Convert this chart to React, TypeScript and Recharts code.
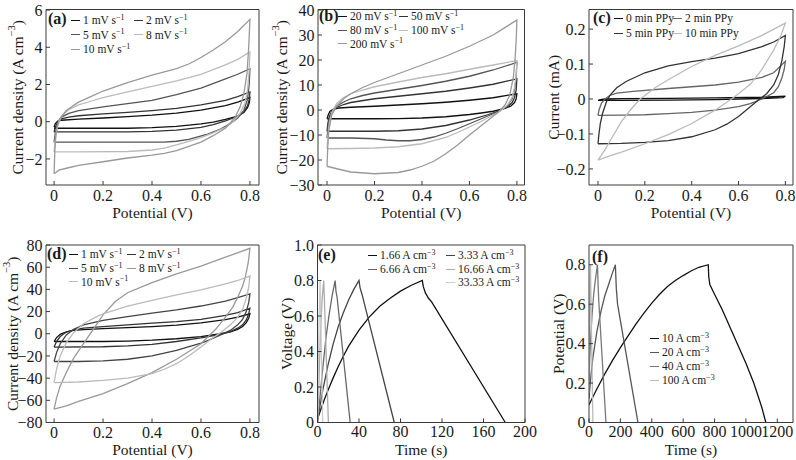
import React from "react";
import { LineChart, Line, XAxis, YAxis } from "recharts";

type Pt = [number, number];

// (a) CV curves, 1-10 mV/s (upper branch then lower branch)
const cvA1: Pt[] = [[0,-0.3],[0.005,-0.1],[0.015,0.03],[0.03,0.08],[0.1,0.14],[0.2,0.2],[0.3,0.27],[0.4,0.35],[0.5,0.46],[0.6,0.62],[0.7,0.87],[0.75,1.05],[0.8,1.3],[0.797,1.0],[0.79,0.75],[0.775,0.5],[0.75,0.3],[0.7,0.12],[0.65,-0.02],[0.6,-0.12],[0.5,-0.25],[0.4,-0.32],[0.3,-0.35],[0,-0.35]];
const cvA2: Pt[] = [[0,-0.55],[0.005,-0.3],[0.015,0.0],[0.03,0.15],[0.06,0.25],[0.1,0.32],[0.2,0.42],[0.3,0.5],[0.4,0.6],[0.5,0.72],[0.6,0.9],[0.7,1.15],[0.75,1.35],[0.8,1.6],[0.797,1.2],[0.79,0.85],[0.775,0.55],[0.75,0.3],[0.7,0.05],[0.65,-0.15],[0.6,-0.3],[0.5,-0.45],[0.4,-0.52],[0.3,-0.55],[0,-0.55]];
const cvA5: Pt[] = [[0,-1.1],[0.005,-0.6],[0.015,-0.1],[0.03,0.25],[0.06,0.45],[0.1,0.6],[0.2,0.8],[0.3,0.97],[0.4,1.15],[0.5,1.45],[0.6,1.8],[0.7,2.3],[0.75,2.55],[0.8,2.85],[0.797,2.0],[0.79,1.2],[0.775,0.6],[0.75,0.2],[0.72,-0.1],[0.68,-0.4],[0.62,-0.7],[0.55,-0.95],[0.5,-1.05],[0.45,-1.1],[0.3,-1.1],[0,-1.1]];
const cvA8: Pt[] = [[0,-1.62],[0.005,-0.9],[0.015,-0.2],[0.03,0.3],[0.06,0.65],[0.1,0.9],[0.15,1.1],[0.2,1.3],[0.3,1.6],[0.4,1.9],[0.5,2.2],[0.6,2.55],[0.7,3.05],[0.75,3.35],[0.8,3.75],[0.796,2.6],[0.79,1.7],[0.78,1.0],[0.76,0.45],[0.73,0.0],[0.7,-0.3],[0.65,-0.6],[0.6,-0.85],[0.55,-1.05],[0.5,-1.25],[0.45,-1.42],[0.4,-1.52],[0.3,-1.6],[0.1,-1.62],[0,-1.62]];
const cvA10: Pt[] = [[0,-2.8],[0.003,-1.6],[0.008,-0.6],[0.02,0.1],[0.05,0.6],[0.1,1.05],[0.15,1.35],[0.2,1.65],[0.3,2.1],[0.4,2.5],[0.5,2.85],[0.55,3.1],[0.6,3.45],[0.65,3.85],[0.7,4.3],[0.75,4.85],[0.8,5.5],[0.795,4.0],[0.788,2.6],[0.775,1.5],[0.76,0.8],[0.74,0.25],[0.7,-0.35],[0.65,-0.75],[0.6,-1.1],[0.5,-1.55],[0.45,-1.7],[0.4,-1.8],[0.3,-1.95],[0.2,-2.15],[0.1,-2.35],[0.05,-2.5],[0.02,-2.6],[0,-2.8]];

// (b) CV curves, 20-200 mV/s
const cvB20: Pt[] = [[0,-3.5],[0.005,-2],[0.012,-0.6],[0.025,0.3],[0.05,0.8],[0.1,1.1],[0.2,1.5],[0.3,2],[0.4,2.5],[0.5,3.1],[0.6,3.9],[0.7,4.9],[0.8,6.5],[0.797,4.5],[0.79,3],[0.775,1.6],[0.75,0.6],[0.7,-0.5],[0.65,-1.2],[0.6,-1.8],[0.5,-2.7],[0.4,-3.2],[0.3,-3.45],[0.2,-3.5],[0,-3.5]];
const cvB50: Pt[] = [[0,-8.5],[0.004,-5],[0.01,-2.5],[0.02,-0.5],[0.04,1],[0.07,2.2],[0.1,3],[0.2,4.5],[0.3,5.5],[0.4,6.5],[0.5,7.5],[0.6,8.8],[0.7,10.3],[0.8,12.5],[0.797,8],[0.79,5],[0.78,3],[0.76,1.2],[0.72,-0.5],[0.68,-1.8],[0.6,-4],[0.5,-6.2],[0.4,-7.6],[0.3,-8.3],[0.2,-8.5],[0,-8.5]];
const cvB80: Pt[] = [[0,-11.2],[0.004,-7],[0.01,-3.5],[0.02,-0.8],[0.04,1.5],[0.07,3.2],[0.1,4.5],[0.15,5.8],[0.2,6.8],[0.3,8.3],[0.4,9.8],[0.5,11.5],[0.6,13.5],[0.7,16],[0.8,19],[0.797,13],[0.79,8],[0.78,4.5],[0.76,1.8],[0.73,-0.2],[0.7,-1.5],[0.65,-3.5],[0.6,-5.5],[0.55,-7.5],[0.5,-9.3],[0.45,-10.8],[0.4,-11.8],[0.35,-12.3],[0.3,-12.3],[0.25,-12],[0.2,-11.5],[0.1,-11.2],[0,-11.2]];
const cvB100: Pt[] = [[0,-15.5],[0.004,-10],[0.01,-5],[0.02,-1],[0.04,2.5],[0.07,5],[0.1,6.5],[0.15,8],[0.2,9.3],[0.3,11.2],[0.4,13],[0.5,14.5],[0.6,16.3],[0.7,18],[0.8,19.8],[0.797,14],[0.79,9],[0.78,5],[0.76,2],[0.73,-0.5],[0.7,-2],[0.65,-4.5],[0.6,-6.8],[0.55,-9],[0.5,-11],[0.4,-13.5],[0.3,-14.7],[0.2,-15.2],[0.1,-15.4],[0,-15.5]];
const cvB200: Pt[] = [[0,-22.5],[0.003,-15],[0.008,-8],[0.02,-2],[0.04,1.5],[0.07,4.5],[0.1,6.5],[0.15,9],[0.2,11],[0.3,14.5],[0.4,18],[0.5,21.5],[0.6,25.5],[0.7,30],[0.8,36],[0.797,28],[0.792,20],[0.785,13],[0.77,6],[0.75,2],[0.72,-1],[0.68,-4],[0.64,-7],[0.6,-10],[0.55,-14],[0.5,-17.5],[0.45,-20.5],[0.4,-22.5],[0.35,-24],[0.3,-25],[0.2,-25.5],[0.1,-24.8],[0.05,-23.7],[0,-22.5]];

// (c) CV curves vs. PPy deposition time (mA)
const cvC0: Pt[] = [[0,-0.004],[0.01,-0.002],[0.03,0.0],[0.1,0.001],[0.3,0.002],[0.5,0.003],[0.7,0.005],[0.8,0.008],[0.79,0.004],[0.7,0.001],[0.5,-0.002],[0.3,-0.003],[0.1,-0.004],[0,-0.004]];
const cvC2: Pt[] = [[0,-0.047],[0.005,-0.03],[0.015,-0.012],[0.03,0.0],[0.05,0.01],[0.08,0.017],[0.15,0.022],[0.3,0.03],[0.4,0.035],[0.5,0.04],[0.6,0.048],[0.7,0.062],[0.75,0.075],[0.8,0.108],[0.795,0.085],[0.785,0.06],[0.77,0.035],[0.75,0.018],[0.7,0.0],[0.65,-0.013],[0.6,-0.022],[0.5,-0.032],[0.4,-0.038],[0.3,-0.042],[0.2,-0.045],[0.1,-0.046],[0,-0.047]];
const cvC5: Pt[] = [[0,-0.128],[0.004,-0.1],[0.01,-0.07],[0.02,-0.04],[0.035,-0.01],[0.05,0.01],[0.08,0.032],[0.12,0.05],[0.2,0.075],[0.3,0.095],[0.4,0.107],[0.5,0.117],[0.6,0.13],[0.7,0.15],[0.75,0.163],[0.8,0.182],[0.795,0.15],[0.785,0.11],[0.77,0.07],[0.75,0.04],[0.72,0.015],[0.69,0.0],[0.65,-0.022],[0.6,-0.05],[0.55,-0.072],[0.5,-0.088],[0.4,-0.108],[0.3,-0.119],[0.2,-0.124],[0.1,-0.127],[0,-0.128]];
const cvC10: Pt[] = [[0,-0.175],[0.03,-0.145],[0.06,-0.11],[0.1,-0.065],[0.14,-0.03],[0.18,0.0],[0.25,0.035],[0.3,0.055],[0.4,0.093],[0.5,0.125],[0.6,0.152],[0.7,0.182],[0.8,0.217],[0.78,0.18],[0.75,0.14],[0.7,0.085],[0.65,0.042],[0.6,0.015],[0.57,0.0],[0.5,-0.032],[0.4,-0.07],[0.3,-0.102],[0.2,-0.128],[0.1,-0.152],[0.05,-0.163],[0,-0.175]];

// (d) CV curves of the device
const cvD1: Pt[] = [[0,-7],[0.01,-3.5],[0.025,-0.5],[0.05,1.8],[0.08,3],[0.12,3.8],[0.2,4.6],[0.3,5.5],[0.4,6.5],[0.5,7.8],[0.6,9.8],[0.7,12.8],[0.75,15],[0.8,18],[0.795,14],[0.785,10],[0.77,6.5],[0.75,4],[0.72,1.8],[0.68,0],[0.6,-2.5],[0.5,-4.5],[0.4,-5.8],[0.3,-6.6],[0.2,-7],[0,-7]];
const cvD2: Pt[] = [[0,-12],[0.01,-7],[0.025,-2.5],[0.05,1.5],[0.08,3.5],[0.12,5],[0.2,6.5],[0.3,8],[0.4,9.5],[0.5,11],[0.6,13],[0.7,16.5],[0.75,19],[0.8,23],[0.795,18],[0.785,12.5],[0.77,8],[0.75,5],[0.72,2],[0.68,-0.5],[0.6,-3.8],[0.5,-7],[0.4,-9.5],[0.3,-11],[0.2,-11.7],[0,-12]];
const cvD5: Pt[] = [[0,-25],[0.01,-17],[0.025,-9],[0.05,-1],[0.08,4],[0.12,8],[0.2,12],[0.3,15.5],[0.4,18.5],[0.5,21.5],[0.6,25],[0.7,29.5],[0.75,32.5],[0.8,36],[0.795,28],[0.785,20],[0.77,13],[0.75,8],[0.72,3],[0.68,-1],[0.63,-6],[0.6,-8.5],[0.5,-15],[0.4,-20],[0.3,-23],[0.2,-24.5],[0.1,-25],[0,-25]];
const cvD8: Pt[] = [[0,-68],[0.01,-58],[0.025,-47],[0.05,-35],[0.08,-22],[0.12,-9],[0.16,4],[0.2,17],[0.25,29],[0.3,37],[0.4,46],[0.5,54],[0.6,61],[0.7,69],[0.8,77],[0.793,64],[0.78,50],[0.77,43],[0.75,33],[0.73,24],[0.7,15],[0.66,4],[0.6,-9],[0.5,-23],[0.4,-35],[0.3,-45],[0.2,-54],[0.1,-61],[0.05,-65],[0,-68]];
const cvD10: Pt[] = [[0,-44],[0.01,-32],[0.025,-20],[0.05,-8],[0.08,1],[0.12,9],[0.17,15],[0.2,18],[0.3,25],[0.4,30],[0.5,35],[0.6,39.5],[0.7,45],[0.75,48],[0.8,52],[0.795,42],[0.785,32],[0.77,22],[0.75,15],[0.72,8],[0.68,1],[0.64,-5],[0.6,-12],[0.55,-20],[0.5,-27],[0.45,-32],[0.4,-36],[0.3,-40],[0.2,-42],[0.1,-43.5],[0,-44]];

// (e) charge/discharge of the device, time (s) vs voltage (V)
const gcdE166: Pt[] = [[0,0.02],[3,0.07],[6,0.12],[10,0.18],[15,0.25],[20,0.315],[25,0.375],[30,0.43],[40,0.52],[50,0.595],[60,0.655],[70,0.7],[80,0.74],[90,0.772],[101,0.8],[102,0.765],[104,0.73],[107,0.7],[110,0.68],[181,0]];
const gcdE333: Pt[] = [[0,0],[2,0.08],[5,0.18],[10,0.32],[15,0.44],[20,0.54],[25,0.62],[30,0.69],[35,0.75],[40,0.8],[41,0.76],[43,0.72],[74,0]];
const gcdE666: Pt[] = [[0,0],[2,0.12],[5,0.3],[8,0.47],[11,0.6],[14,0.71],[17,0.8],[17.8,0.74],[19,0.7],[31.5,0]];
const gcdE1666: Pt[] = [[0,0],[1,0.15],[2,0.35],[3,0.52],[4.5,0.7],[6,0.8],[6.5,0.72],[10.5,0]];
const gcdE3333: Pt[] = [[0,0],[0.5,0.2],[1.2,0.5],[2.5,0.8],[2.8,0.7],[5,0]];

// (f) charge/discharge of the electrode
const gcdF10: Pt[] = [[0,0.09],[50,0.17],[100,0.245],[150,0.315],[200,0.38],[250,0.44],[300,0.5],[350,0.555],[400,0.605],[450,0.65],[500,0.69],[550,0.72],[600,0.745],[650,0.768],[700,0.787],[760,0.8],[763,0.74],[770,0.7],[800,0.65],[850,0.57],[900,0.48],[950,0.39],[1000,0.3],[1050,0.2],[1100,0.08],[1127,0]];
const gcdF20: Pt[] = [[0,0.12],[10,0.22],[25,0.33],[50,0.46],[75,0.56],[100,0.64],[125,0.7],[150,0.76],[168,0.8],[174,0.68],[182,0.6],[312,0]];
const gcdF40: Pt[] = [[0,0.2],[5,0.33],[10,0.42],[20,0.55],[30,0.65],[40,0.72],[54,0.8],[58,0.7],[62,0.62],[108,0]];
const gcdF100: Pt[] = [[0,0.15],[3,0.45],[6,0.65],[10,0.8],[11,0.7],[25,0]];

// tick values
const ticksV = [0, 0.2, 0.4, 0.6, 0.8];
const ticksA = [-2, 0, 2, 4, 6];
const ticksB = [-30, -20, -10, 0, 10, 20, 30, 40];
const ticksC = [-0.2, -0.1, 0, 0.1, 0.2];
const ticksD = [-80, -60, -40, -20, 0, 20, 40, 60, 80];
const ticksEx = [0, 40, 80, 120, 160, 200];
const ticksEy = [0, 0.2, 0.4, 0.6, 0.8, 1.0];
const ticksFx = [0, 200, 400, 600, 800, 1000, 1200];
const ticksFy = [0, 0.2, 0.4, 0.6, 0.8];

interface Series { name: string; color: string; pts: Pt[] }

const seriesA: Series[] = [
  { name: "1 mV s^{−1}", color: "#111", pts: cvA1 },
  { name: "2 mV s^{−1}", color: "#333", pts: cvA2 },
  { name: "5 mV s^{−1}", color: "#555", pts: cvA5 },
  { name: "8 mV s^{−1}", color: "#bbb", pts: cvA8 },
  { name: "10 mV s^{−1}", color: "#999", pts: cvA10 },
];
const seriesB: Series[] = [
  { name: "20 mV s^{−1}", color: "#111", pts: cvB20 },
  { name: "50 mV s^{−1}", color: "#333", pts: cvB50 },
  { name: "80 mV s^{−1}", color: "#555", pts: cvB80 },
  { name: "100 mV s^{−1}", color: "#bbb", pts: cvB100 },
  { name: "200 mV s^{−1}", color: "#999", pts: cvB200 },
];
const seriesC: Series[] = [
  { name: "0 min PPy", color: "#111", pts: cvC0 },
  { name: "2 min PPy", color: "#666", pts: cvC2 },
  { name: "5 min PPy", color: "#333", pts: cvC5 },
  { name: "10 min PPy", color: "#bbb", pts: cvC10 },
];
const seriesD: Series[] = [
  { name: "1 mV s^{−1}", color: "#111", pts: cvD1 },
  { name: "2 mV s^{−1}", color: "#333", pts: cvD2 },
  { name: "5 mV s^{−1}", color: "#444", pts: cvD5 },
  { name: "8 mV s^{−1}", color: "#999", pts: cvD8 },
  { name: "10 mV s^{−1}", color: "#bbb", pts: cvD10 },
];
const seriesE: Series[] = [
  { name: "1.66 A cm^{−3}", color: "#111", pts: gcdE166 },
  { name: "3.33 A cm^{−3}", color: "#444", pts: gcdE333 },
  { name: "6.66 A cm^{−3}", color: "#666", pts: gcdE666 },
  { name: "16.66 A cm^{−3}", color: "#aaa", pts: gcdE1666 },
  { name: "33.33 A cm^{−3}", color: "#ccc", pts: gcdE3333 },
];
const seriesF: Series[] = [
  { name: "10 A cm^{−3}", color: "#111", pts: gcdF10 },
  { name: "20 A cm^{−3}", color: "#555", pts: gcdF20 },
  { name: "40 A cm^{−3}", color: "#777", pts: gcdF40 },
  { name: "100 A cm^{−3}", color: "#bbb", pts: gcdF100 },
];

const FONT = '"Liberation Serif", "Times New Roman", serif';
const INK = "#1a1a1a";
const EDGE = "#3a3a3a";
const AX = 1; // axis box size; recharts skips axes of size 0

const toXY = (pts: Pt[]) => pts.map(([x, y]) => ({ x, y }));

const fmt = (dec: number) => (v: number) =>
  v === 0 ? "0" : (v < 0 ? "\u2212" : "") + Math.abs(v).toFixed(dec);

// "A cm^{−3}" -> html with superscript
const htmlRich = (s: string) =>
  s.split(/\^\{([^}]*)\}/).map((t, i) =>
    i % 2 ? (
      <span key={i} style={{ fontSize: "0.7em", position: "relative", top: "-0.5em" }}>{t}</span>
    ) : (
      <span key={i}>{t}</span>
    )
  );

const svgRich = (s: string) =>
  s.split(/\^\{([^}]*)\}/).map((t, i) =>
    i % 2 ? (
      <tspan key={i} dy={-6} fontSize={10.5}>{t}</tspan>
    ) : (
      <tspan key={i} dy={i ? 6 : 0}>{t}</tspan>
    )
  );

interface PanelProps {
  tag: string;
  tagPos: Pt;
  left: number;
  top: number;
  width: number;
  height: number;
  box: [number, number, number, number];
  xDomain: [number, number];
  yDomain: [number, number];
  xTicks: number[];
  yTicks: number[];
  xDec: number;
  yDec: number;
  xTitle: string;
  yTitle: string;
  yTitleX: number;
  xGap: number;
  series: Series[];
  legendPos: Pt[];
}

const Panel = (p: PanelProps) => {
  const [bl, bt, br, bb] = p.box;
  const margin = {
    left: bl - p.left - AX,
    top: bt - p.top - AX,
    right: p.left + p.width - br - AX,
    bottom: p.top + p.height - bb - AX,
  };
  const tickStyle = { fontFamily: FONT, fontSize: 16, fill: INK };
  const edge = { stroke: EDGE, strokeWidth: 1 };
  const xt = (bl + br) / 2 - p.left;
  const yt = (bt + bb) / 2 - p.top;
  const ytx = p.yTitleX - p.left;

  return (
    <div style={{ position: "absolute", left: p.left, top: p.top, width: p.width, height: p.height }}>
      <LineChart width={p.width} height={p.height} margin={margin}>
        <XAxis
          xAxisId="b"
          dataKey="x"
          type="number"
          domain={p.xDomain}
          ticks={p.xTicks}
          interval={0}
          allowDataOverflow
          height={AX}
          tickSize={-4}
          tickMargin={p.xGap + 4 - 5.9}
          tickFormatter={fmt(p.xDec)}
          tick={tickStyle}
          axisLine={edge}
          tickLine={edge}
          label={() => (
            <text x={xt} y={bb - p.top + 26.5} textAnchor="middle" dominantBaseline="central"
              fontFamily={FONT} fontSize={15.5} fill={INK}>
              {svgRich(p.xTitle)}
            </text>
          )}
        />
        <XAxis xAxisId="t" orientation="top" type="number" domain={p.xDomain} allowDataOverflow
          height={AX} tick={false} tickLine={false} axisLine={edge} />
        <YAxis
          yAxisId="l"
          type="number"
          domain={p.yDomain}
          ticks={p.yTicks}
          interval={0}
          allowDataOverflow
          width={AX}
          tickSize={-4}
          tickMargin={7.5}
          tickFormatter={fmt(p.yDec)}
          tick={tickStyle}
          axisLine={edge}
          tickLine={edge}
          label={() => (
            <text x={ytx} y={yt} transform={`rotate(-90 ${ytx} ${yt})`} textAnchor="middle"
              dominantBaseline="central" fontFamily={FONT} fontSize={15.5} fill={INK}>
              {svgRich(p.yTitle)}
            </text>
          )}
        />
        <YAxis yAxisId="r" orientation="right" type="number" domain={p.yDomain} allowDataOverflow
          width={AX} tick={false} tickLine={false} axisLine={edge} />
        {p.series.map((s) => (
          <Line
            key={s.name}
            xAxisId="b"
            yAxisId="l"
            data={toXY(s.pts)}
            dataKey="y"
            type="linear"
            stroke={s.color}
            strokeWidth={1.3}
            dot={false}
            isAnimationActive={false}
          />
        ))}
      </LineChart>

      <div style={{
        position: "absolute", left: p.tagPos[0] - p.left, top: p.tagPos[1] - p.top - 9,
        lineHeight: "18px", fontFamily: FONT, fontWeight: "bold", fontSize: 16, color: INK,
      }}>
        {p.tag}
      </div>
      {p.series.map((s, i) => (
        <div key={s.name} style={{
          position: "absolute", left: p.legendPos[i][0] - p.left, top: p.legendPos[i][1] - p.top - 8,
          height: 16, display: "flex", alignItems: "center", whiteSpace: "nowrap",
          fontFamily: FONT, fontSize: 11.5, color: INK,
        }}>
          <span style={{ width: 9, borderTop: `1.5px solid ${s.color}`, marginRight: 3 }} />
          <span>{htmlRich(s.name)}</span>
        </div>
      ))}
    </div>
  );
};

export default function App() {
  return (
    <div style={{ position: "absolute", left: 0, top: 0, width: 796, height: 460, background: "#fff" }}>
      <Panel
        tag="(a)" tagPos={[48, 19]}
        left={0} top={0} width={265} height={228} box={[46, 9.5, 259, 185]}
        xDomain={[-0.033, 0.837]} yDomain={[-3.4, 6.03]}
        xTicks={ticksV} yTicks={ticksA} xDec={1} yDec={0}
        xTitle="Potential (V)" yTitle="Current density (A cm^{−3})" yTitleX={16.5} xGap={11}
        series={seriesA}
        legendPos={[[71, 20], [134, 20], [71, 34.5], [134, 34.5], [71, 49]]}
      />
      <Panel
        tag="(b)" tagPos={[319, 15.5]}
        left={265} top={0} width={270} height={228} box={[318, 9.5, 524.5, 185]}
        xDomain={[-0.038, 0.832]} yDomain={[-30, 40.2]}
        xTicks={ticksV} yTicks={ticksB} xDec={1} yDec={0}
        xTitle="Potential (V)" yTitle="Current density (A cm^{−3})" yTitleX={281} xGap={11}
        series={seriesB}
        legendPos={[[338, 16], [399, 16], [338, 30], [399, 30], [338, 43.5]]}
      />
      <Panel
        tag="(c)" tagPos={[593, 18]}
        left={530} top={0} width={266} height={228} box={[589, 9.5, 793, 185]}
        xDomain={[-0.0384, 0.8325]} yDomain={[-0.246, 0.256]}
        xTicks={ticksV} yTicks={ticksC} xDec={1} yDec={1}
        xTitle="Potential (V)" yTitle="Current (mA)" yTitleX={552.5} xGap={11}
        series={seriesC}
        legendPos={[[614, 18], [673, 18], [614, 33], [673, 33]]}
      />
      <Panel
        tag="(d)" tagPos={[47, 254]}
        left={0} top={230} width={265} height={230} box={[46, 245, 259, 422.5]}
        xDomain={[-0.033, 0.837]} yDomain={[-80, 80]}
        xTicks={ticksV} yTicks={ticksD} xDec={1} yDec={0}
        xTitle="Potential (V)" yTitle="Current density (A cm^{−3})" yTitleX={11.5} xGap={10}
        series={seriesD}
        legendPos={[[69, 254], [127, 254], [69, 268], [127, 268], [69, 281.5]]}
      />
      <Panel
        tag="(e)" tagPos={[318, 255]}
        left={265} top={230} width={280} height={230} box={[317.5, 245, 525, 422.5]}
        xDomain={[0, 200]} yDomain={[0, 1]}
        xTicks={ticksEx} yTicks={ticksEy} xDec={0} yDec={1}
        xTitle="Time (s)" yTitle="Voltage (V)" yTitleX={286} xGap={9}
        series={seriesE}
        legendPos={[[368, 255], [446, 255], [368, 269], [446, 269], [446, 282]]}
      />
      <Panel
        tag="(f)" tagPos={[592, 257]}
        left={530} top={230} width={266} height={230} box={[589, 245, 793, 422.5]}
        xDomain={[0, 1300]} yDomain={[0, 0.9]}
        xTicks={ticksFx} yTicks={ticksFy} xDec={0} yDec={1}
        xTitle="Time (s)" yTitle="Potential (V)" yTitleX={557.5} xGap={9}
        series={seriesF}
        legendPos={[[650, 338], [650, 352], [650, 366], [650, 380]]}
      />
    </div>
  );
}
